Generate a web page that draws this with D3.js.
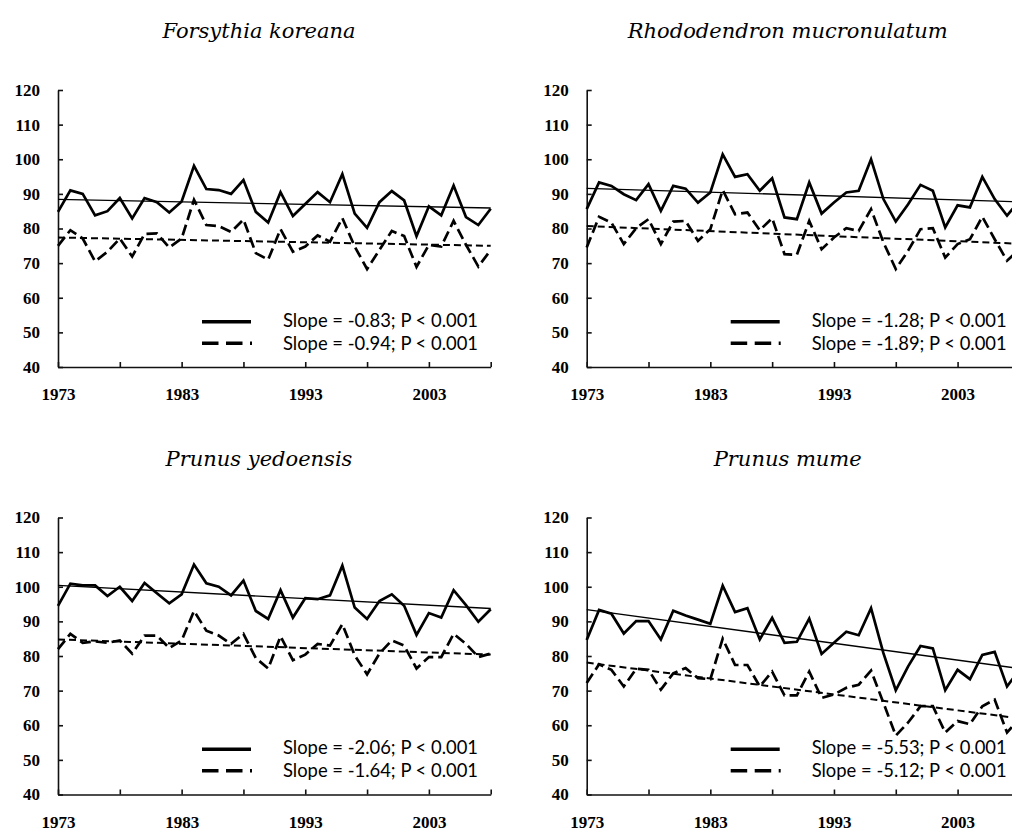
<!DOCTYPE html>
<html>
<head>
<meta charset="utf-8">
<script src="https://cdn.jsdelivr.net/npm/d3@7"></script>
<style>
  body { margin: 0; background: #fff; }
  .title { font-family: "DejaVu Serif", serif; font-style: italic; font-size: 21px; }
  .axis text { font-family: "Liberation Serif", serif; font-weight: bold; font-size: 17px; fill: #000; }
  .axis path, .axis line { stroke: #111; stroke-width: 1.6px; }
  .legend-text { font-family: Lato, sans-serif; font-size: 18.4px; fill: #000; }
</style>
</head>
<body>
<div id="chart"></div>
<script>
// years on the x axis
var years = d3.range(1973, 2009);
var xTicks = [1973, 1978, 1983, 1988, 1993, 1998, 2003, 2008];
var xLabels = [1973, 1983, 1993, 2003];
var yTicks = [40, 50, 60, 70, 80, 90, 100, 110, 120];

var titles = ["Forsythia koreana", "Rhododendron mucronulatum", "Prunus yedoensis", "Prunus mume"];

// values (solid = first series, dashed = second series)
var forsythiaSolid = [84.8, 91, 90, 83.8, 85, 88.8, 82.9, 88.8, 87.6, 84.6, 87.8, 98.1, 91.4, 91.1, 90, 94,
  84.8, 81.7, 90.5, 83.6, 87.1, 90.5, 87.6, 95.7, 84.3, 80.2, 87.6, 90.8, 88.1, 77.8, 86.4, 83.8, 92.4, 83.3, 81, 85.7];
var forsythiaDashed = [75, 79.5, 77.1, 70.5, 73.3, 77.1, 71.9, 78.4, 78.6, 74.5, 77.1, 88.3, 81, 80.7, 79, 82.6,
  72.9, 71, 79.8, 73.3, 74.8, 78, 76.2, 83, 74.8, 68.3, 73.8, 79.3, 77.8, 68.9, 75.3, 74.8, 82.2, 75.3, 69, 73.8];

var rhodoSolid = [85.6, 93.3, 92.3, 89.9, 88.2, 92.8, 85.1, 92.3, 91.5, 87.5, 90.4, 101.4, 94.9, 95.7, 90.9, 94.5,
  83.2, 82.7, 93.3, 84.3, 87.5, 90.4, 90.9, 100, 88.5, 82, 87, 92.6, 90.9, 80.3, 86.7, 86.1, 94.9, 88.5, 83.7, 88];
var rhodoDashed = [74.5, 83.4, 81.7, 75.5, 80.1, 82.7, 75.5, 82, 82.2, 76.4, 79.8, 91.1, 84.1, 84.6, 79.5, 83,
  72.6, 72.4, 82.2, 74, 77.4, 80.1, 79.3, 85.6, 76, 68.3, 73.6, 79.8, 80.1, 71.6, 75.5, 76.9, 83.4, 76.9, 70.7, 74];

var yedoSolid = [94.5, 100.9, 100.4, 100.4, 97.3, 100, 95.9, 101.1, 98.1, 95.2, 97.8, 106.4, 101, 100, 97.5, 101.8,
  93, 90.7, 99, 91.1, 96.7, 96.4, 97.5, 106.1, 94, 90.7, 95.9, 97.8, 94.5, 86.1, 92.4, 91.1, 99, 94.7, 89.9, 93.5];
var yedoDashed = [82, 86.4, 83.8, 84.2, 83.8, 84.5, 80.7, 85.9, 85.9, 82.3, 84.5, 93, 87.3, 85.9, 83.5, 86.4,
  79.4, 76.4, 85.7, 78.8, 80.4, 83.5, 83, 89.2, 80.2, 74.7, 80.7, 84.5, 83, 76.4, 79.7, 79.7, 86.4, 83.5, 79.7, 80.7];

var mumeSolid = [84.6, 93.3, 92.2, 86.5, 90.1, 90.1, 84.8, 93.1, 91.7, 90.5, 89.3, 100.3, 92.7, 93.8, 84.8, 91,
  83.8, 84.1, 90.8, 80.6, 83.8, 87, 86, 93.8, 80.8, 70.1, 77, 82.9, 82.2, 70.1, 76, 73.3, 80.3, 81.2, 71.2, 76];
var mumeDashed = [72.2, 77.6, 76, 71.2, 76.3, 76, 70.3, 75, 76.5, 73.6, 73.3, 85, 77.4, 77.4, 71.2, 75.5,
  68.6, 68.6, 75.5, 67.9, 68.9, 70.8, 71.7, 75.8, 66.5, 57, 60.8, 65.5, 65.5, 57.9, 61.2, 60.3, 65.5, 67.4, 57.9, 62];

// trend lines: value at 1973 and at 2008
var trendSolid = [[88.4, 85.9], [91.6, 87.7], [100.4, 93.7], [93.4, 76.4]];
var trendDashed = [[77.4, 75.0], [80.7, 75.6], [84.8, 80.4], [78.1, 62.0]];

var slopeSolid = ["-0.83", "-1.28", "-2.06", "-5.53"];
var slopeDashed = ["-0.94", "-1.89", "-1.64", "-5.12"];

var solidSeries = [forsythiaSolid, rhodoSolid, yedoSolid, mumeSolid];
var dashedSeries = [forsythiaDashed, rhodoDashed, yedoDashed, mumeDashed];

var width = 1012, height = 831;
var panelW = 432.7, panelH = 277;
var panelPos = [
  {x: 58, y: 90},
  {x: 586.7, y: 90},
  {x: 58, y: 517.5},
  {x: 586.7, y: 517.5}
];

var svg = d3.select("#chart")
  .append("svg")
  .attr("width", width)
  .attr("height", height);

var x = d3.scaleLinear()
  .domain([1973, 2008])
  .range([0, panelW]);

var y = d3.scaleLinear()
  .domain([40, 120])
  .range([panelH, 0]);

var line = d3.line()
  .x(function(d) { return x(d.year); })
  .y(function(d) { return y(d.value); });

titles.forEach(function(title, i) {
  var pos = panelPos[i];
  var g = svg.append("g")
    .attr("transform", "translate(" + pos.x + "," + pos.y + ")");

  g.append("text")
    .attr("class", "title")
    .attr("x", 201)
    .attr("y", -52)
    .attr("text-anchor", "middle")
    .text(title);

  // y axis, ticks pointing inward
  g.append("g")
    .attr("class", "axis y")
    .call(d3.axisLeft(y)
      .tickValues(yTicks)
      .tickSizeInner(-5)
      .tickSizeOuter(0)
      .tickPadding(18));

  // x axis
  g.append("g")
    .attr("class", "axis x")
    .attr("transform", "translate(0," + panelH + ")")
    .call(d3.axisBottom(x)
      .tickValues(xTicks)
      .tickSizeInner(-5)
      .tickSizeOuter(0)
      .tickPadding(21)
      .tickFormat(function(d) { return xLabels.indexOf(d) >= 0 ? d : ""; }));

  var solid = years.map(function(yr, k) { return {year: yr, value: solidSeries[i][k]}; });
  var dashed = years.map(function(yr, k) { return {year: yr, value: dashedSeries[i][k]}; });

  g.append("path")
    .attr("d", line(solid))
    .attr("fill", "none")
    .attr("stroke", "#000")
    .attr("stroke-width", 2.7)
    .attr("stroke-linejoin", "miter");

  g.append("path")
    .attr("d", line(dashed))
    .attr("fill", "none")
    .attr("stroke", "#000")
    .attr("stroke-width", 2.7)
    .attr("stroke-dasharray", "11,5");

  // trend lines
  g.append("path")
    .attr("d", line([{year: 1973, value: trendSolid[i][0]}, {year: 2008, value: trendSolid[i][1]}]))
    .attr("fill", "none")
    .attr("stroke", "#000")
    .attr("stroke-width", 1.4);

  g.append("path")
    .attr("d", line([{year: 1973, value: trendDashed[i][0]}, {year: 2008, value: trendDashed[i][1]}]))
    .attr("fill", "none")
    .attr("stroke", "#000")
    .attr("stroke-width", 2)
    .attr("stroke-dasharray", "7,4");

  // legend
  g.append("line")
    .attr("x1", 144).attr("x2", 193)
    .attr("y1", 231.7).attr("y2", 231.7)
    .attr("stroke", "#000")
    .attr("stroke-width", 3.5);

  g.append("line")
    .attr("x1", 144).attr("x2", 200)
    .attr("y1", 253.3).attr("y2", 253.3)
    .attr("stroke", "#000")
    .attr("stroke-width", 3.5)
    .attr("stroke-dasharray", "16.5,7.5,16.5,7.5,2,20");

  g.append("text")
    .attr("class", "legend-text")
    .attr("x", 225)
    .attr("y", 236.5)
    .text("Slope = " + slopeSolid[i] + "; P < 0.001");

  g.append("text")
    .attr("class", "legend-text")
    .attr("x", 225)
    .attr("y", 259.8)
    .text("Slope = " + slopeDashed[i] + "; P < 0.001");
});
</script>
</body>
</html>
